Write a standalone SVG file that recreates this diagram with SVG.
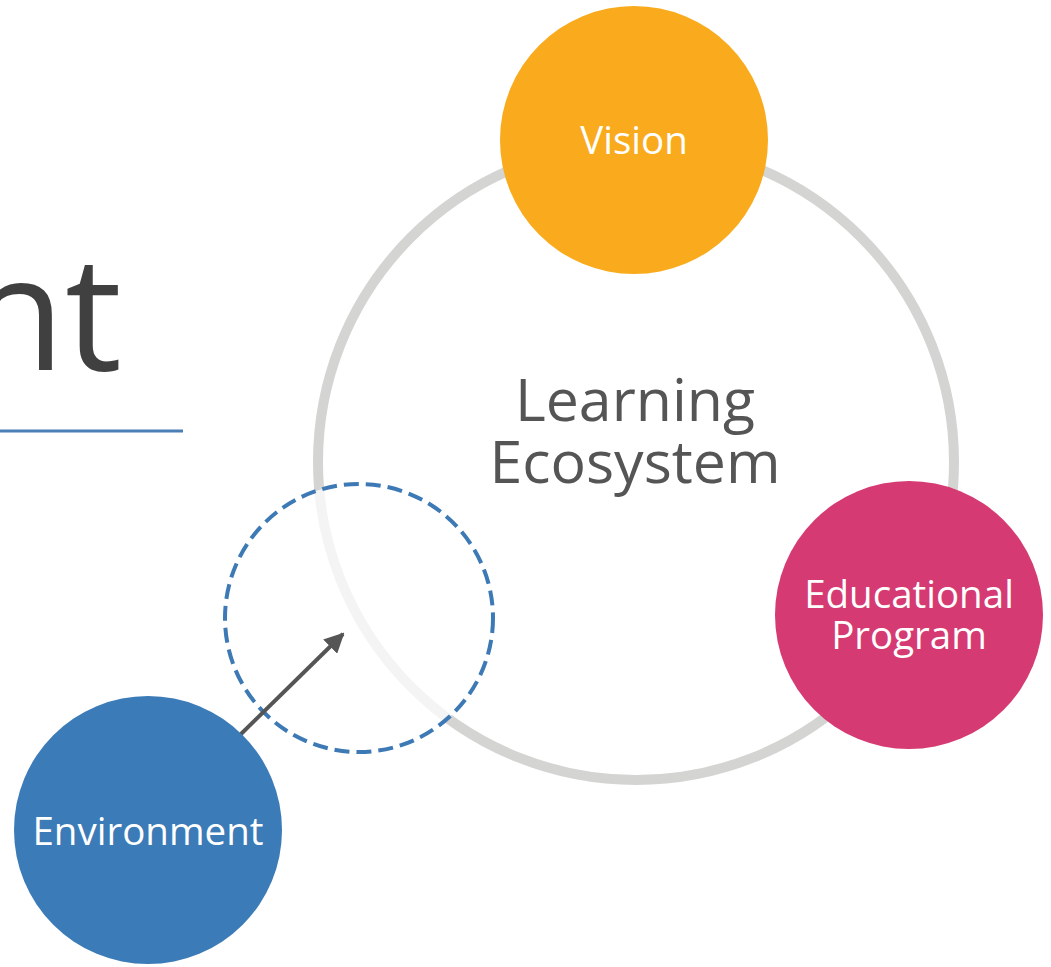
<svg xmlns="http://www.w3.org/2000/svg" width="1051" height="967" viewBox="0 0 1051 967">
<style>
.lbl{font-family:"Open Sans","Liberation Sans",sans-serif;fill:#ffffff;text-anchor:middle;font-size:38.5px}
.title{font-family:"Open Sans","Liberation Sans",sans-serif;fill:#555555;text-anchor:middle;font-size:59px}
</style>
<defs>
<marker id="ah" viewBox="0 0 10 10" refX="9" refY="5" markerWidth="5" markerHeight="5" orient="auto" markerUnits="strokeWidth">
<path d="M0,0 L10,5 L0,10 z" fill="#555555"/>
</marker>
</defs>
<rect width="1051" height="967" fill="#ffffff"/>
<text x="122" y="370" font-family="'Open Sans','Liberation Sans',sans-serif" font-size="160" fill="#404040" text-anchor="end">nt</text>
<line x1="0" y1="431" x2="183" y2="431" stroke="#4a7fb5" stroke-width="3"/>
<g id="ecosystem">
<circle cx="636" cy="462" r="318" fill="none" stroke="#d4d4d2" stroke-width="10"/>
<text class="title" x="635" y="421">Learning</text>
<text class="title" x="635" y="483">Ecosystem</text>
</g>
<g id="target">
<circle cx="359" cy="618" r="134" fill="#ffffff" fill-opacity="0.75" stroke="#3d7ab5" stroke-width="4" stroke-dasharray="15 7"/>
</g>
<g id="connectors">
<line x1="240" y1="735" x2="343" y2="634" stroke="#555555" stroke-width="4" marker-end="url(#ah)"/>
</g>
<g id="vision">
<circle cx="634" cy="140" r="134" fill="#f9ab1d"/>
<text class="lbl" x="634" y="154">Vision</text>
</g>
<g id="educational">
<circle cx="909" cy="615" r="134" fill="#d63a72"/>
<text class="lbl" x="909" y="608">Educational</text>
<text class="lbl" x="909" y="649">Program</text>
</g>
<g id="environment">
<circle cx="148" cy="830" r="134" fill="#3b7bb7"/>
<text class="lbl" x="148" y="845">Environment</text>
</g>
</svg>
